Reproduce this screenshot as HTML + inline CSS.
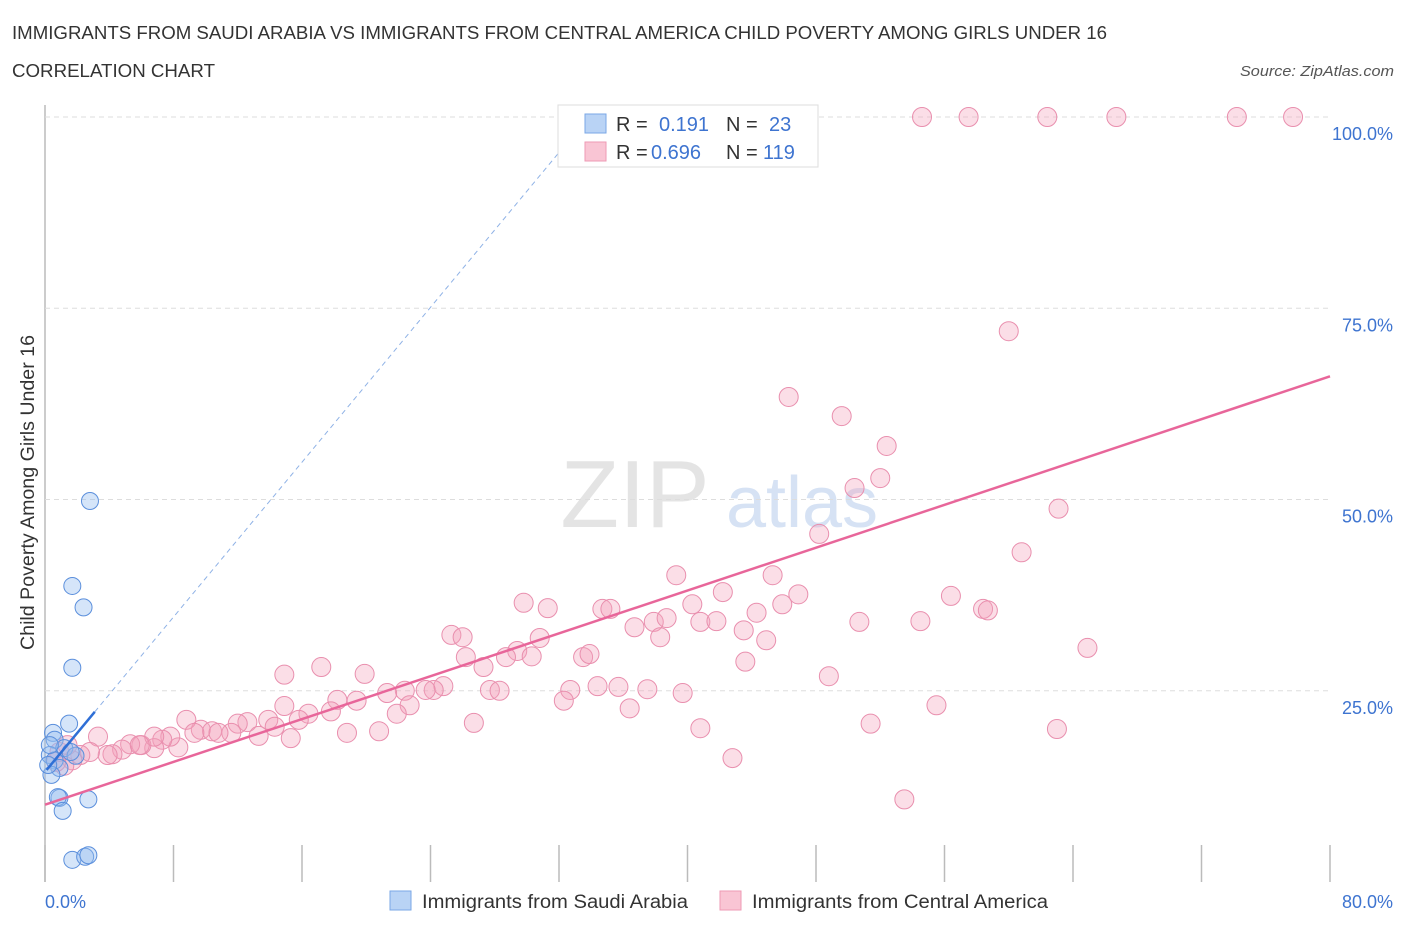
<!DOCTYPE html>
<html><head><meta charset="utf-8"><style>
body{margin:0;background:#fff;font-family:"Liberation Sans",sans-serif;}
svg text{font-family:"Liberation Sans",sans-serif;}
</style></head><body>
<svg id="chart" width="1406" height="930" xmlns="http://www.w3.org/2000/svg">
<text x="12" y="39" font-size="18" fill="#333" textLength="1095" lengthAdjust="spacingAndGlyphs">IMMIGRANTS FROM SAUDI ARABIA VS IMMIGRANTS FROM CENTRAL AMERICA CHILD POVERTY AMONG GIRLS UNDER 16</text>
<text x="12" y="77" font-size="18" fill="#333" textLength="203" lengthAdjust="spacingAndGlyphs">CORRELATION CHART</text>
<text x="1394" y="76" font-size="15" fill="#555" font-style="italic" text-anchor="end" textLength="154" lengthAdjust="spacingAndGlyphs">Source: ZipAtlas.com</text>
<text x="635" y="527" font-size="96" fill="#e4e4e4" font-family="Liberation Serif" text-anchor="middle">ZIP</text>
<text x="802" y="527" font-size="72" fill="#d6e2f4" text-anchor="middle">atlas</text>
<text transform="translate(34,650) rotate(-90)" font-size="19" fill="#333" textLength="315" lengthAdjust="spacingAndGlyphs">Child Poverty Among Girls Under 16</text>
<g id="grid"></g><g id="marks"></g>
<g>
<rect x="558" y="105" width="260" height="62" fill="#fff" stroke="#ddd"/>
<rect x="585" y="114" width="21" height="19" fill="#b9d3f5" stroke="#7aa7e6"/>
<rect x="585" y="142" width="21" height="19" fill="#f9c5d4" stroke="#ee9ab4"/>
<text x="616" y="131" font-size="20" fill="#333">R =</text><text x="659" y="131" font-size="20" fill="#3e74d0">0.191</text>
<text x="726" y="131" font-size="20" fill="#333">N =</text><text x="769" y="131" font-size="20" fill="#3e74d0">23</text>
<text x="616" y="159" font-size="20" fill="#333">R =</text><text x="651" y="159" font-size="20" fill="#3e74d0">0.696</text>
<text x="726" y="159" font-size="20" fill="#333">N =</text><text x="763" y="159" font-size="20" fill="#3e74d0">119</text>
</g>
<text x="45" y="908" font-size="18" fill="#3e74d0">0.0%</text>
<text x="1393" y="908" font-size="18" fill="#3e74d0" text-anchor="end">80.0%</text>
<rect x="390" y="891" width="21" height="19" fill="#b9d3f5" stroke="#7aa7e6"/>
<text x="422" y="908" font-size="19" fill="#333" textLength="266" lengthAdjust="spacingAndGlyphs">Immigrants from Saudi Arabia</text>
<rect x="720" y="891" width="21" height="19" fill="#f9c5d4" stroke="#ee9ab4"/>
<text x="752" y="908" font-size="19" fill="#333" textLength="296" lengthAdjust="spacingAndGlyphs">Immigrants from Central America</text>
</svg>
<script>
const yTicks=[25,50,75,100];
const yTickLabels=["25.0%","50.0%","75.0%","100.0%"];
const xTicks=[0,8,16,24,32,40,48,56,64,72,80];
const blueX=[2.8,1.7,2.4,1.7,1.5,0.5,0.6,1.2,0.3,0.6,0.9,0.4,0.9,0.8,2.7,1.1,1.7,2.5,2.7,1.9,0.2,1.6,0.3];
const blueY=[49.8,38.7,35.9,28.0,20.7,19.5,18.6,17.5,16.6,15.9,14.9,14.0,11.0,11.1,10.8,9.3,2.9,3.3,3.5,16.5,15.3,17.0,17.9];
const pinkX=[54.6,57.5,62.4,66.7,74.2,77.7,60.0,46.3,49.6,52.4,50.4,52.0,63.1,48.2,60.8,39.3,45.3,29.8,31.3,34.7,35.2,40.3,42.2,46.9,45.9,44.3,56.4,58.4,58.7,54.5,50.7,36.7,37.9,38.7,40.8,41.8,43.5,38.3,44.9,30.8,25.3,26.0,33.5,33.9,29.4,28.7,30.3,26.2,27.3,17.2,14.9,19.9,43.6,48.8,64.9,34.4,35.7,37.5,32.7,32.3,39.7,36.4,27.7,28.3,24.8,24.2,23.7,22.4,21.3,22.7,19.4,18.2,17.8,14.9,16.4,15.8,21.9,26.7,20.8,18.8,15.3,13.9,12.6,14.3,12.0,13.3,11.6,9.7,10.4,10.8,8.8,9.3,8.3,7.8,7.3,6.8,6.0,5.3,4.8,4.2,3.9,3.3,2.8,2.2,1.7,1.2,0.7,40.8,42.8,51.4,55.5,53.5,63.0,6.8,5.9,0.9,1.4];
const pinkY=[100,100,100,100,100,100,72.0,63.4,60.9,57.0,51.5,52.8,48.8,45.5,43.1,40.1,40.1,36.5,35.8,35.7,35.7,36.3,37.9,37.6,36.3,35.2,37.4,35.7,35.5,34.1,34.0,33.3,34.0,34.5,34.0,34.1,32.9,32.0,31.6,31.9,32.3,32.0,29.4,29.8,30.2,29.4,29.5,29.4,28.1,28.1,27.1,27.2,28.8,26.9,30.6,25.6,25.5,25.2,25.1,23.7,24.7,22.7,25.1,25.0,25.6,25.1,25.1,25.0,24.7,23.1,23.7,23.8,22.3,23.0,22.0,21.2,22.0,20.8,19.7,19.5,18.8,21.2,20.9,20.3,20.7,19.1,19.5,19.9,19.7,19.5,21.2,19.5,17.6,19.0,18.6,17.5,17.9,18.0,17.3,16.7,16.6,19.0,17.0,16.6,15.9,15.2,15.7,20.1,16.2,20.7,23.1,10.8,20.0,19.0,17.9,17.0,17.9];
const pinkTrend=[10.1,66.1];
const blueTrend=[14.4,2.53];
const NS="http://www.w3.org/2000/svg";
const X=v=>45+v/80*1285, Y=v=>882-v/100*765;
const grid=document.getElementById('grid'), marks=document.getElementById('marks');
function mk(tag,at,parent){const e=document.createElementNS(NS,tag);for(const k in at)e.setAttribute(k,at[k]);parent.appendChild(e);return e;}
const ax=mk('line',{x1:45,y1:105,x2:45,y2:882,stroke:'#bbb','stroke-width':1.5},grid);


yTicks.forEach((t,i)=>{
 const g=mk('line',{x1:45,y1:Y(t),x2:1330,y2:Y(t),stroke:'#ddd','stroke-dasharray':'5,4'},grid);
 
 
 const l=mk('text',{x:1393,y:Y(t)+23,'font-size':18,fill:'#3e74d0','text-anchor':'end'},grid);
 l.textContent=yTickLabels[i];
 
 
});
xTicks.forEach(t=>{
 const k=mk('line',{x1:X(t),y1:845,x2:X(t),y2:882,stroke:'#bbb','stroke-width':1.5},grid);
 
 
});
pinkX.forEach((x,i)=>{
 const c=mk('circle',{cx:X(x),cy:Y(pinkY[i]),r:9.5,fill:'rgba(244,160,187,0.35)',stroke:'#e98fae','stroke-width':1},marks);
 
 
});
blueX.forEach((x,i)=>{
 const c=mk('circle',{cx:X(x),cy:Y(blueY[i]),r:8.5,fill:'rgba(150,190,240,0.4)',stroke:'#5b8fdc','stroke-width':1},marks);
 
 
});
const pt=mk('line',{x1:X(0),y1:Y(pinkTrend[0]),x2:X(80),y2:Y(pinkTrend[1]),stroke:'#e8669a','stroke-width':2.5},marks);


const bd=mk('line',{x1:X(3.1),y1:Y(blueTrend[0]+blueTrend[1]*3.1),x2:X(33),y2:Y(blueTrend[0]+blueTrend[1]*33),stroke:'#8fb2e6','stroke-width':1,'stroke-dasharray':'5,4'},marks);


const bt=mk('line',{x1:X(0.1),y1:Y(blueTrend[0]+blueTrend[1]*0.1),x2:X(3.1),y2:Y(blueTrend[0]+blueTrend[1]*3.1),stroke:'#2f6fd6','stroke-width':2.5},marks);


</script>
</body></html>
